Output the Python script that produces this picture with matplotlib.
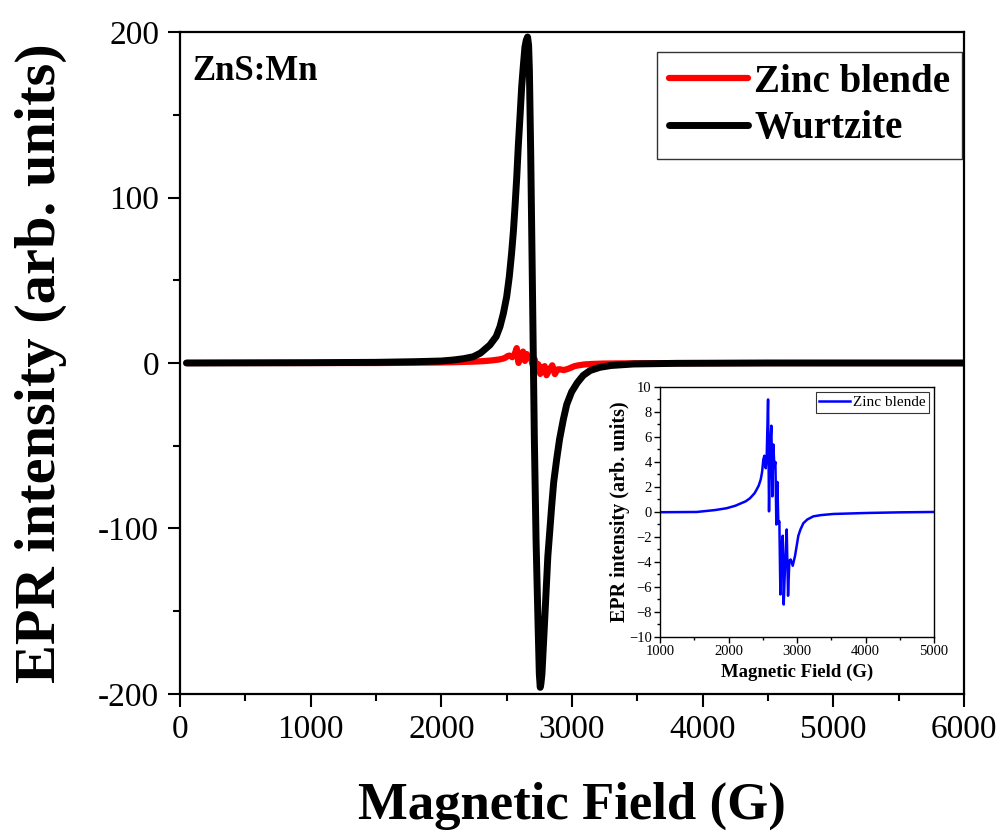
import numpy as np
import matplotlib
matplotlib.use("Agg")
from matplotlib import pyplot as plt
from matplotlib.ticker import MultipleLocator

plt.rcParams['font.family'] = ['Liberation Serif', 'DejaVu Serif']

# Wurtzite EPR signal (field in G, intensity)
wurtzite_field = [50, 500, 1000, 1500, 1800, 2000, 2090, 2170, 2245, 2300,
                  2372, 2420, 2449, 2475, 2500, 2520, 2538, 2552, 2564, 2577,
                  2589, 2603, 2615, 2628, 2640, 2650, 2660, 2668, 2674, 2684,
                  2694, 2703, 2712, 2725, 2740, 2750, 2757, 2762, 2770, 2790,
                  2815, 2845, 2860, 2883, 2905, 2934, 2960, 2997, 3040, 3086,
                  3140, 3214, 3300, 3470, 3800, 4500, 5200, 6000]
wurtzite_int = [0.0, 0.1, 0.2, 0.4, 0.8, 1.2, 1.8, 2.6, 3.8, 6.0,
                10.9, 16, 22, 30, 40, 52, 66.5, 80, 94.6, 112,
                131, 150, 167, 180, 191, 195, 197, 192, 177, 127,
                66, 10, -46, -107, -157, -188, -196, -194, -188, -157,
                -117, -86, -72, -58, -46, -34, -25, -17.5, -12, -7.5,
                -4.5, -2.6, -1.5, -0.6, -0.2, 0.0, 0.0, 0.0]

# Zinc blende EPR signal
zb_field = [50, 500, 1000, 1535, 1800, 1973, 2100, 2168, 2250, 2314, 2380,
            2411, 2440, 2470, 2490, 2508, 2523, 2543, 2557, 2577, 2591, 2606,
            2625, 2640, 2654, 2669, 2684, 2698, 2713, 2727, 2742, 2757, 2771,
            2791, 2805, 2825, 2849, 2869, 2888, 2907, 2937, 2971, 3019, 3050,
            3092, 3150, 3238, 3350, 3530, 4017, 4500, 5000, 6000]
zb_int = [0.0, 0.0, -0.02, 0.0, 0.15, 0.3, 0.5, 0.66, 0.85, 1.1, 1.5,
          1.8, 2.1, 2.6, 3.2, 4.2, 4.5, 3.5, 4.4, 9.0, 0.05, 5.0,
          6.9, 1.25, 5.4, 3.6, 4.0, -1.0, 2.4, -0.9, -0.75, -6.6, -2.9,
          -1.9, -7.4, -4.3, -1.4, -6.7, -3.9, -3.8, -4.3, -3.5, -1.9, -1.4,
          -0.9, -0.6, -0.35, -0.25, -0.16, -0.08, -0.03, 0.0, 0.0]

fig = plt.figure(figsize=(10.02, 8.32), dpi=100)
ax = fig.add_axes([0.1796, 0.1659, 0.7825, 0.7956])

ax.plot(zb_field, zb_int, color='#ff0000', lw=4.5, label='Zinc blende',
        solid_capstyle='round', solid_joinstyle='round')
ax.plot(wurtzite_field, wurtzite_int, color='black', lw=5, label='Wurtzite',
        solid_capstyle='round', solid_joinstyle='round')

ax.set_xlim(0, 6000)
ax.set_ylim(-200, 200)
ax.xaxis.set_major_locator(MultipleLocator(1000))
ax.xaxis.set_minor_locator(MultipleLocator(500))
ax.set_yticks([-200, -100, 0, 100, 200])
ax.set_yticklabels(['-200', '-100', '0', '100', '200'])
ax.yaxis.set_minor_locator(MultipleLocator(50))
ax.tick_params(which='major', direction='out', length=9, width=1.5,
               labelsize=24, pad=6)
ax.tick_params(which='minor', direction='out', length=5, width=1.5)
for s in ax.spines.values():
    s.set_linewidth(1.6)

ax.set_xlabel('Magnetic Field (G)', fontsize=38, fontweight='bold', labelpad=26)
ax.set_ylabel('EPR intensity (arb. units)', fontsize=42, fontweight='bold',
              labelpad=22)

ax.text(0.016, 0.94, 'ZnS:Mn', transform=ax.transAxes, fontsize=25,
        fontweight='bold', va='center', ha='left')

leg = ax.legend(loc='upper right', bbox_to_anchor=(0.9975, 0.97),
                prop={'weight': 'bold', 'size': 28}, frameon=True,
                fancybox=False, edgecolor='black', handlelength=2.05,
                handletextpad=0.15, borderpad=0.3, labelspacing=0.25,
                borderaxespad=0.0)
leg.get_frame().set_linewidth(1.0)

# Inset with the zinc blende signal
ins = fig.add_axes([0.6587, 0.2344, 0.2735, 0.3005])
ins.plot(zb_field, zb_int, color='#0000ff', lw=1.8, label='Zinc blende')
ins.set_xlim(1000, 5000)
ins.set_ylim(-10, 10)
ins.xaxis.set_major_locator(MultipleLocator(1000))
ins.xaxis.set_minor_locator(MultipleLocator(500))
ins.yaxis.set_major_locator(MultipleLocator(2))
ins.yaxis.set_minor_locator(MultipleLocator(1))
ins.tick_params(which='major', direction='out', length=4, width=1,
                labelsize=10.5, pad=2)
ins.tick_params(which='minor', direction='out', length=2, width=1)
for s in ins.spines.values():
    s.set_linewidth(1.0)
ins.set_xlabel('Magnetic Field (G)', fontsize=13.5, fontweight='bold', labelpad=4)
ins.set_ylabel('EPR intensity (arb. units)', fontsize=14.5, fontweight='bold',
               labelpad=-1)
il = ins.legend(loc='upper right', prop={'size': 11}, frameon=True,
                fancybox=False, edgecolor='black', handlelength=2.0,
                handletextpad=0.2, borderpad=0.25, borderaxespad=0.3)
il.get_frame().set_linewidth(0.8)

fig.savefig('out.png', dpi=100)
